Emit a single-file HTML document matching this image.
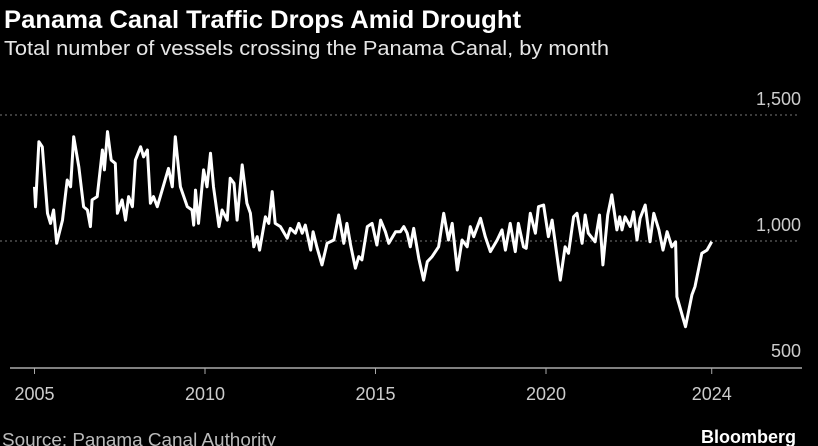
<!DOCTYPE html>
<html><head><meta charset="utf-8"><style>
body{margin:0;background:#000;width:818px;height:446px;overflow:hidden;font-family:"Liberation Sans",sans-serif;}
svg{display:block}
</style></head><body>
<svg id="chart" width="818" height="446">
<text x="4" y="28" fill="#fff" font-size="25" font-weight="bold" textLength="517" lengthAdjust="spacingAndGlyphs">Panama Canal Traffic Drops Amid Drought</text>
<text x="4" y="55" fill="#e6e6e6" font-size="20" textLength="605" lengthAdjust="spacingAndGlyphs">Total number of vessels crossing the Panama Canal, by month</text>
<g id="grid"></g><g id="axis"></g>
<path id="line" fill="none" stroke="#fff" stroke-width="3" stroke-linejoin="round"/>
<text x="2" y="446" fill="#bbb" font-size="18" textLength="274" lengthAdjust="spacingAndGlyphs">Source: Panama Canal Authority</text>
<text x="796" y="443" fill="#fff" font-size="18" font-weight="bold" text-anchor="end">Bloomberg</text>
</svg>
<script>
const dates=[2005.00,2005.03,2005.13,2005.23,2005.38,2005.47,2005.56,2005.65,2005.82,2005.96,2006.06,2006.15,2006.30,2006.44,2006.55,2006.64,2006.69,2006.84,2006.99,2007.05,2007.14,2007.25,2007.37,2007.43,2007.57,2007.67,2007.76,2007.87,2007.96,2008.11,2008.20,2008.31,2008.40,2008.49,2008.60,2008.93,2009.04,2009.13,2009.28,2009.48,2009.62,2009.67,2009.72,2009.81,2009.96,2010.06,2010.16,2010.25,2010.41,2010.50,2010.65,2010.74,2010.85,2010.94,2011.09,2011.23,2011.33,2011.43,2011.53,2011.60,2011.77,2011.87,2011.97,2012.06,2012.21,
2012.41,2012.50,2012.65,2012.75,2012.85,2012.94,2013.10,2013.17,2013.28,2013.43,2013.58,2013.78,2013.92,2014.07,2014.16,2014.27,2014.41,2014.51,2014.60,2014.76,2014.90,2015.04,2015.15,2015.29,2015.39,2015.59,2015.73,2015.83,2015.93,2016.02,2016.12,2016.27,2016.41,2016.52,2016.66,2016.85,2017.00,2017.14,2017.25,2017.40,2017.54,2017.69,2017.78,2017.88,2018.08,2018.22,2018.37,2018.57,2018.71,2018.81,2018.95,2019.10,2019.19,2019.34,
2019.42,2019.54,2019.69,2019.78,2019.93,2020.07,2020.18,2020.42,2020.56,2020.66,2020.81,2020.91,2021.06,2021.15,2021.24,2021.44,2021.57,2021.67,2021.81,2021.93,2022.08,2022.16,2022.23,2022.32,2022.47,2022.57,2022.67,2022.76,2022.91,2023.05,2023.16,2023.31,2023.43,2023.55,2023.69,2023.80,2023.84,2024.09,2024.28,2024.37,2024.57,2024.72,2024.86];
const vessels=[1215,1136,1394,1374,1110,1070,1123,991,1083,1242,1215,1414,1295,1136,1123,1057,1163,1176,1361,1282,1434,1321,1308,1110,1163,1083,1176,1136,1321,1374,1334,1361,1150,1176,1136,1288,1215,1414,1215,1136,1123,1063,1202,1070,1282,1215,1348,1215,1057,1123,1083,1249,1229,1083,1302,1150,1110,977,1017,964,1096,1070,1196,1070,1057,
1011,1050,1031,1070,1031,1063,964,1037,977,905,991,1004,1103,991,1070,984,892,938,925,1057,1070,984,1083,1037,991,1037,1037,1057,1031,977,1050,931,845,918,938,977,1110,1004,1070,885,1004,977,1057,1017,1090,1017,958,1004,1044,964,1070,958,1070,977,
971,1110,1031,1136,1143,1017,1083,845,977,951,1096,1110,991,1103,1031,997,1103,905,1103,1183,1044,1096,1044,1096,1057,1116,1004,1090,1143,997,1110,1044,964,1037,977,997,779,660,786,819,951,964,997];
const yTicks=[1500,1000,500];
const yTickLabels=["1,500","1,000","500"];
const xTicks=[2005,2010,2015,2020,2024.86];
const xTickLabels=["2005","2010","2015","2020","2024"];
const NS="http://www.w3.org/2000/svg";
const xS=y=>34.5+(y-2005)*34.1;
const yS=v=>241-(v-1000)*0.252;
const grid=document.getElementById('grid'),axis=document.getElementById('axis');
yTicks.forEach((t,i)=>{
  if(t!==500){
    const l=document.createElementNS(NS,'line');
    
    
    l.setAttribute('x1',0);l.setAttribute('x2',800);l.setAttribute('y1',yS(t));l.setAttribute('y2',yS(t));
    l.setAttribute('stroke','#777');l.setAttribute('stroke-dasharray','2,3');
    grid.appendChild(l);
  }
  const tx=document.createElementNS(NS,'text');
  
  
  tx.setAttribute('x',801);tx.setAttribute('y',yS(t)-10);tx.setAttribute('text-anchor','end');
  tx.setAttribute('fill','#ccc');tx.setAttribute('font-size','18');tx.textContent=yTickLabels[i];
  grid.appendChild(tx);
});
const ax=document.createElementNS(NS,'line');


ax.setAttribute('x1',10);ax.setAttribute('x2',802);ax.setAttribute('y1',368);ax.setAttribute('y2',368);
ax.setAttribute('stroke','#aaa');ax.setAttribute('stroke-width','1.5');axis.appendChild(ax);
xTicks.forEach((t,i)=>{
  const l=document.createElementNS(NS,'line');
  
  
  l.setAttribute('x1',xS(t));l.setAttribute('x2',xS(t));l.setAttribute('y1',368);l.setAttribute('y2',374);
  l.setAttribute('stroke','#aaa');axis.appendChild(l);
  const tx=document.createElementNS(NS,'text');
  
  
  tx.setAttribute('x',xS(t));tx.setAttribute('y',400);tx.setAttribute('text-anchor','middle');
  tx.setAttribute('fill','#ccc');tx.setAttribute('font-size','18');tx.textContent=xTickLabels[i];
  axis.appendChild(tx);
});
document.getElementById('line').setAttribute('d',dates.map((d,i)=>(i?'L':'M')+xS(d).toFixed(1)+','+yS(vessels[i]).toFixed(1)).join(''));
</script>
</body></html>
